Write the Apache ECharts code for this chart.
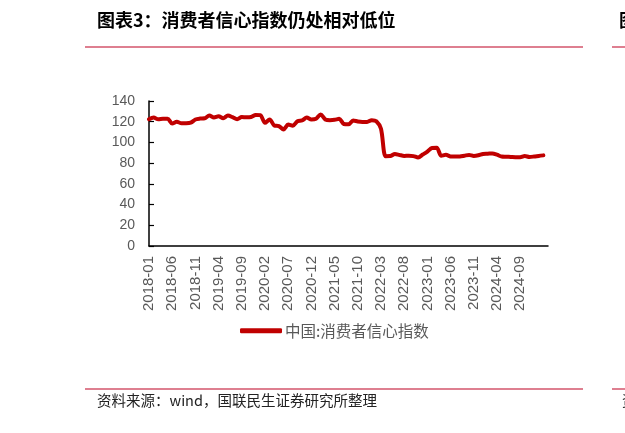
<!DOCTYPE html>
<html>
<head>
<meta charset="utf-8">
<script src="https://cdn.jsdelivr.net/npm/echarts@6/dist/echarts.min.js"></script>
<style>
html,body{margin:0;padding:0;background:#fff;}
#c{width:625px;height:433px;}
</style>
</head>
<body>
<div id="c"></div>
<script>
// categories: monthly 2018-01 .. 2025-03 (last category has no value)
const categories = [];
for (let y = 2018; y <= 2025; y++) {
  for (let m = 1; m <= 12; m++) {
    if (y === 2025 && m > 3) break;
    categories.push(y + '-' + (m < 10 ? '0' + m : m));
  }
}
const seriesName = '中国:消费者信心指数';
const v2018 = [122.3,124.0,122.3,122.9,122.9,118.2,119.9,118.6,118.6,119.1,122.1,123.0];
const v2019 = [123.3,125.9,124.1,125.3,123.4,125.9,124.4,122.4,124.5,124.3,124.6,126.6];
const v2020 = [126.4,118.9,122.2,116.4,115.8,112.6,117.2,116.1,120.5,121.2,124.0,122.1];
const v2021 = [122.8,127.0,122.2,121.5,121.8,122.8,117.8,117.5,121.2,120.2,119.8,119.8];
const v2022 = [121.5,120.5,113.2,86.7,86.8,88.9,87.9,87.0,87.2,86.8,85.5,88.3];
const v2023 = [91.2,94.7,94.9,87.1,88.0,86.5,86.4,86.5,87.2,87.9,87.0,87.6];
const v2024 = [88.9,89.1,89.4,88.2,86.4,86.2,86.0,85.8,85.7,86.9,86.0,86.4];
const v2025 = [87.0,87.5];
const values = [].concat(v2018, v2019, v2020, v2021, v2022, v2023, v2024, v2025);
const yTicks = { min: 0, max: 140, interval: 20 };
const titleText = '图表3：消费者信心指数仍处相对低位';
const sourceText = '资料来源：wind，国联民生证券研究所整理';

const chart = echarts.init(document.getElementById('c'));
const pink = '#DE7F90';
chart.setOption({
  backgroundColor: '#fff',
  animation: false,
  grid: { left: 149, right: 77, top: 101, bottom: 187, containLabel: false },
  xAxis: {
    type: 'category',
    data: categories,
    boundaryGap: false,
    axisLine: { lineStyle: { color: '#000', width: 1.5 } },
    axisTick: { show: false },
    splitLine: { show: false },
    axisLabel: {
      rotate: 90,
      interval: function (i) { return i % 5 === 0 && i <= 80; },
      margin: 10,
      color: '#595959',
      fontSize: 15,
      fontFamily: 'Liberation Sans, Arial, sans-serif'
    }
  },
  yAxis: {
    type: 'value',
    min: yTicks.min, max: yTicks.max, interval: yTicks.interval,
    axisLine: { show: true, lineStyle: { color: '#000', width: 1.5 } },
    axisTick: { show: true, inside: true, length: 5, lineStyle: { color: '#000', width: 1.2 } },
    splitLine: { show: false },
    axisLabel: {
      margin: 14,
      color: '#595959',
      fontSize: 14,
      fontFamily: 'Liberation Sans, Arial, sans-serif'
    }
  },
  legend: {
    left: 235, top: 318,
    itemWidth: 42, itemHeight: 5, itemGap: 10,
    icon: 'roundRect',
    textStyle: { color: '#595959', fontSize: 15.5, fontFamily: 'Noto Sans CJK SC', padding: [0,0,0,-2] },
    data: [seriesName]
  },
  series: [{
    name: seriesName,
    type: 'line',
    data: values,
    smooth: 0.3,
    symbol: 'none',
    lineStyle: { color: '#C00000', width: 4, cap: 'round', join: 'round' },
    itemStyle: { color: '#C00000' }
  }],
  graphic: [
    { type: 'text', left: 97, top: 11, style: { text: titleText, fill: '#000', font: 'bold 18px "Noto Sans CJK SC"' } },
    { type: 'line', shape: { x1: 85, y1: 47, x2: 583, y2: 47 }, style: { stroke: pink, lineWidth: 2 } },
    { type: 'line', shape: { x1: 612, y1: 47, x2: 625, y2: 47 }, style: { stroke: pink, lineWidth: 2 } },
    { type: 'text', left: 619, top: 11, style: { text: '图', fill: '#000', font: 'bold 18px "Noto Sans CJK SC"' } },
    { type: 'line', shape: { x1: 85, y1: 389, x2: 583, y2: 389 }, style: { stroke: pink, lineWidth: 2 } },
    { type: 'line', shape: { x1: 612, y1: 389, x2: 625, y2: 389 }, style: { stroke: pink, lineWidth: 2 } },
    { type: 'text', left: 97, top: 393, style: { text: sourceText, fill: '#222', font: '14.5px "Noto Sans CJK SC"' } },
    { type: 'text', left: 622, top: 393, style: { text: '资', fill: '#222', font: '14.5px "Noto Sans CJK SC"' } }
  ]
});
</script>
</body>
</html>
